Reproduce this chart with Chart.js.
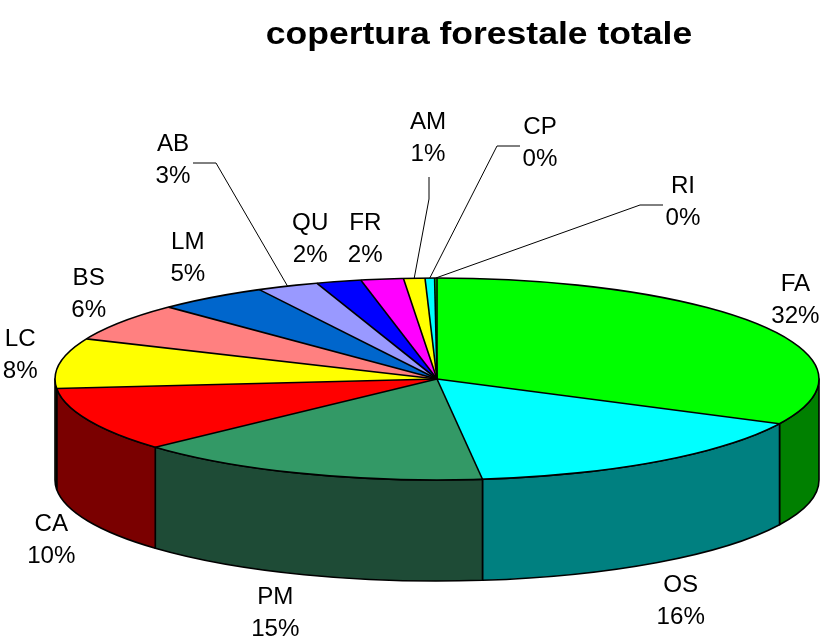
<!DOCTYPE html>
<html>
<head>
<meta charset="utf-8">
<title>copertura forestale totale</title>
<script src="https://cdn.jsdelivr.net/npm/chart.js@4.4.0/dist/chart.umd.min.js"></script>
<style>
html, body { margin: 0; padding: 0; background: #fff; }
canvas { display: block; }
</style>
</head>
<body>
<canvas id="pie" width="825" height="638"></canvas>
<script>
const chartTitle = 'copertura forestale totale';
const categories = ['FA', 'OS', 'PM', 'CA', 'LC', 'BS', 'LM', 'AB', 'QU', 'FR', 'AM', 'CP', 'RI'];
const shares = [32.3, 15.8, 15.1, 10.3, 8.0, 6.1, 4.7, 2.6, 1.9, 1.8, 0.9, 0.4, 0.1];
const topColors = ['#00FF00', '#00FFFF', '#339966', '#FF0000', '#FFFF00', '#FF8080', '#0066CC',
                   '#9999FF', '#0000FF', '#FF00FF', '#FFFF00', '#00FFFF', '#00FF00'];
const sideColors = ['#008000', '#008080', '#1E4B36', '#7A0000', '#808000', '#804040', '#003366',
                    '#4C4C80', '#000080', '#800080', '#808000', '#008080', '#008000'];

// where the tilted pie sits on the page
const CX = 437, CY = 379, RX = 382, RY = 101, DEPTH = 101;
const FONT = '"Liberation Sans", Arial, sans-serif';
const STRETCH = 1.05;

// small slices whose labels were pulled away onto a leader line
const leaderLabels = {
    AB: { x: 173, y: 161, side: 'right' },
    AM: { x: 428, y: 139, side: 'bottom' },
    CP: { x: 540, y: 144, side: 'left' },
    RI: { x: 683, y: 203, side: 'left' }
};
const labelNudge = { PM: [-15, -6], QU: [-18, 5], FR: [-11, 8] };

function pct(v) {
    const total = shares.reduce((a, b) => a + b, 0);
    return Math.round(v / total * 100) + '%';
}

function rim(angle) {
    return [CX + RX * Math.cos(angle), CY + RY * Math.sin(angle)];
}

// part of [a,b] facing the viewer (canvas angles 0..PI, in any turn)
function frontPart(a, b) {
    const parts = [];
    for (let k = -1; k <= 1; k++) {
        const lo = Math.max(a, k * 2 * Math.PI);
        const hi = Math.min(b, k * 2 * Math.PI + Math.PI);
        if (hi > lo) parts.push([lo, hi]);
    }
    return parts;
}

function drawText(ctx, text, x, y, font, stretch) {
    ctx.save();
    ctx.translate(x, y);
    ctx.scale(stretch, 1);
    ctx.font = font;
    ctx.fillText(text, 0, 0);
    ctx.restore();
}

const tilt = {
    id: 'tilt',
    beforeDatasetsDraw(chart) {
        const ctx = chart.ctx;
        const arcs = chart.getDatasetMeta(0).data;
        ctx.save();
        ctx.lineWidth = 1.6;
        ctx.strokeStyle = '#000';
        ctx.lineJoin = 'round';
        arcs.forEach((arc, i) => {
            frontPart(arc.startAngle, arc.endAngle).forEach(([a, b]) => {
                ctx.beginPath();
                ctx.ellipse(CX, CY, RX, RY, 0, a, b);
                ctx.ellipse(CX, CY + DEPTH, RX, RY, 0, b, a, true);
                ctx.closePath();
                ctx.fillStyle = sideColors[i];
                ctx.fill();
                ctx.stroke();
            });
        });
        ctx.restore();
        // squash the library's round pie onto the top face
        const c = arcs[0];
        ctx.save();
        ctx.translate(CX, CY);
        ctx.scale(RX / c.outerRadius, RY / c.outerRadius);
        ctx.translate(-c.x, -c.y);
    },
    afterDatasetsDraw(chart) {
        const ctx = chart.ctx;
        const arcs = chart.getDatasetMeta(0).data;
        ctx.restore();
        ctx.save();
        ctx.strokeStyle = '#000';
        ctx.lineWidth = 1.6;
        ctx.beginPath();
        ctx.ellipse(CX, CY, RX, RY, 0, 0, 2 * Math.PI);
        ctx.stroke();
        arcs.forEach(arc => {
            const [x, y] = rim(arc.startAngle);
            ctx.beginPath();
            ctx.moveTo(CX, CY);
            ctx.lineTo(x, y);
            ctx.stroke();
        });

        ctx.fillStyle = '#000';
        ctx.textAlign = 'center';
        ctx.textBaseline = 'middle';
        ctx.lineWidth = 1;
        arcs.forEach((arc, i) => {
            const name = categories[i];
            const mid = (arc.startAngle + arc.endAngle) / 2;
            const lead = leaderLabels[name];
            let x, y;
            if (lead) {
                x = lead.x;
                y = lead.y;
                const [px, py] = rim(mid);
                ctx.beginPath();
                ctx.moveTo(px, py);
                if (lead.side === 'bottom') {
                    ctx.lineTo(x + 1, y + 60);
                    ctx.lineTo(x + 1, y + 38);
                } else {
                    const s = lead.side === 'right' ? 1 : -1;
                    ctx.lineTo(x + s * 43, y + 2);
                    ctx.lineTo(x + s * 20, y + 2);
                }
                ctx.stroke();
            } else {
                const n = labelNudge[name] || [0, 0];
                x = CX + (RX + 40) * Math.cos(mid) + n[0];
                y = CY + (RY + 48) * Math.sin(mid) + (Math.sin(mid) > 0 ? DEPTH : 0) + n[1];
            }
            drawText(ctx, name, x, y - 16, '23px ' + FONT, STRETCH);
            drawText(ctx, pct(shares[i]), x, y + 16, '23px ' + FONT, STRETCH);
        });

        drawText(ctx, chartTitle, 479, 35, 'bold 32px ' + FONT, 1.11);
        ctx.restore();
    }
};

new Chart(document.getElementById('pie'), {
    type: 'pie',
    data: {
        labels: categories,
        datasets: [{
            data: shares,
            backgroundColor: topColors,
            borderWidth: 0
        }]
    },
    options: {
        responsive: false,
        animation: false,
        devicePixelRatio: 1,
        events: [],
        layout: { padding: 20 },
        plugins: {
            legend: { display: false },
            tooltip: { enabled: false },
            title: { display: false }
        }
    },
    plugins: [tilt]
});
</script>
</body>
</html>
